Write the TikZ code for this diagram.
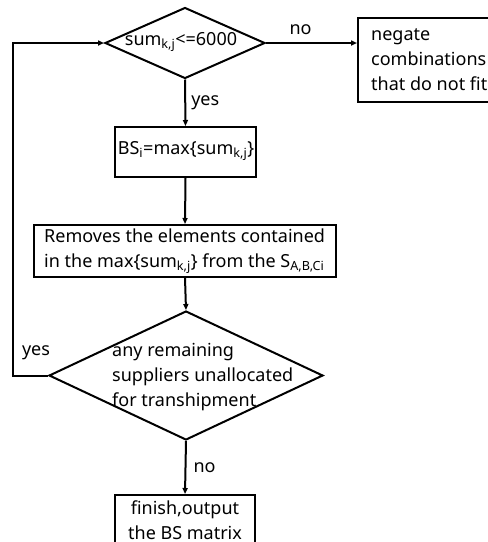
\documentclass[tikz,border=0pt]{standalone}
\usepackage{fontspec}
\setmainfont{Noto Sans}
\usetikzlibrary{shapes.geometric,arrows.meta}
\begin{document}
\begin{tikzpicture}[x=1pt,y=-1pt,
  every node/.style={font=\fontsize{18}{25}\selectfont},
  box/.style={draw,line width=2pt,inner sep=0pt},
  dia/.style={draw,diamond,line width=2pt,inner sep=0pt},
  txt/.style={inner sep=0pt,align=left},
  flow/.style={line width=2pt,-{Triangle[length=6pt,width=5pt]}},
  lbl/.style={inner sep=0pt}]
\useasboundingbox (0,0) rectangle (488,542);
% top diamond
\node[dia,minimum width=160,minimum height=71] (d1) at (185,43) {};
\node[lbl] (d1t) at (181,42) {sum\textsubscript{k,j}<=6000};
% negate box
\node[box,minimum width=200,minimum height=84,anchor=north west] (neg) at (357,17) {};
\node[txt,anchor=north west] (negt) at (371,28) {negate\\combinations\\that do not fit};
% BS box
\node[box,minimum width=141,minimum height=50] (bs) at (185.5,152) {};
\node[lbl] (bst) at (186,151) {BS\textsubscript{i}=max\{sum\textsubscript{k,j}\}};
% remove box
\node[box,minimum width=302,minimum height=52] (rm) at (185,251) {};
\node[txt,anchor=west] (rmt) at (44,251) {Removes the elements contained\\in the max\{sum\textsubscript{k,j}\} from the S\textsubscript{A,B,Ci}};
% bottom diamond
\node[dia,minimum width=274,minimum height=129] (d2) at (186,375.5) {};
\node[txt,anchor=west] (d2t) at (112,377) {any remaining\\suppliers unallocated\\for transhipment};
% finish box
\node[box,minimum width=140,minimum height=100,anchor=north] (fin) at (185,494) {};
\node[lbl,align=center,anchor=north] (fint) at (185,501) {finish,output\\the BS matrix};
% connectors
\draw[flow] (d1.east) -- node[lbl,above=7pt,pos=0.38] (lno1) {no} (neg.west |- d1.east);
\draw[flow] (d1.south) -- node[lbl,right=5pt] (lyes1) {yes} (bs.north);
\draw[flow] (bs.south) -- (rm.north);
\draw[flow] (rm.south) -- (d2.north);
\draw[flow] (d2.south) -- node[lbl,right=7pt,pos=0.5] (lno2) {no} (fin.north);
\coordinate (lb) at (13,375.5);
\coordinate (lt) at (13,43);
\draw[flow] (d2.west) -- (lb) -- (lt) -- (d1.west);
\node[lbl] (lyes2) at (36,353) {yes};
\end{tikzpicture}
\end{document}
